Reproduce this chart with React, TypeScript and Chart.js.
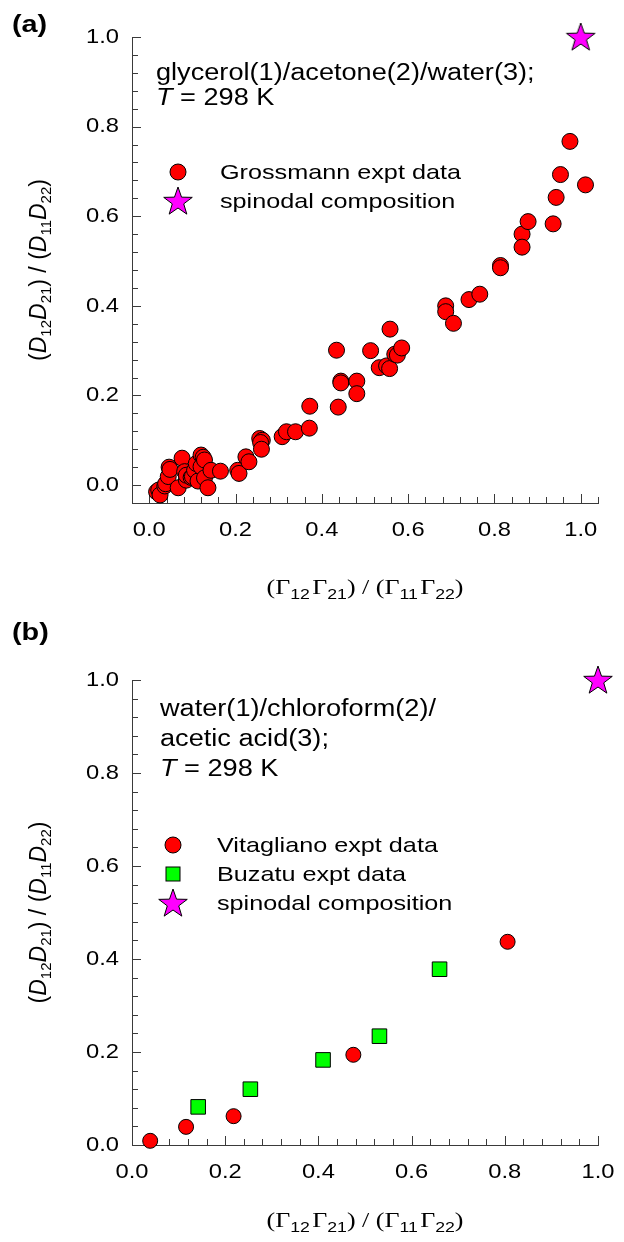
import React, { useEffect, useRef } from 'react';
import { Chart, registerables } from 'chart.js';

Chart.register(...registerables);

// ---------- data: panel (a) glycerol/acetone/water ----------
const grossmannX = [0.017, 0.022, 0.025, 0.036, 0.038, 0.044, 0.046, 0.048, 0.067, 0.076, 0.082, 0.086, 0.086, 0.097, 0.100, 0.105, 0.109, 0.113, 0.120, 0.125, 0.120, 0.128, 0.128, 0.136, 0.143, 0.165, 0.205, 0.208, 0.224, 0.231, 0.256, 0.262, 0.258, 0.260, 0.308, 0.318, 0.339, 0.371, 0.372, 0.434, 0.438, 0.444, 0.444, 0.481, 0.481, 0.513, 0.533, 0.550, 0.557, 0.558, 0.569, 0.575, 0.585, 0.687, 0.687, 0.705, 0.741, 0.766, 0.814, 0.814, 0.864, 0.864, 0.878, 0.936, 0.943, 0.953, 0.975, 1.011];
const grossmannY = [-0.015, -0.011, -0.022, -0.002, 0.003, 0.019, 0.040, 0.035, -0.006, 0.060, 0.030, 0.011, 0.022, 0.017, 0.019, 0.033, 0.048, 0.009, 0.067, 0.062, 0.041, 0.056, 0.016, -0.006, 0.033, 0.031, 0.033, 0.026, 0.063, 0.052, 0.104, 0.100, 0.095, 0.080, 0.108, 0.119, 0.119, 0.127, 0.176, 0.301, 0.174, 0.232, 0.228, 0.232, 0.204, 0.300, 0.262, 0.266, 0.260, 0.348, 0.292, 0.290, 0.306, 0.400, 0.387, 0.361, 0.414, 0.426, 0.490, 0.485, 0.560, 0.531, 0.588, 0.583, 0.642, 0.693, 0.767, 0.670];
const spinodalAX = [1.0];
const spinodalAY = [1.0];

// ---------- data: panel (b) water/chloroform/acetic acid ----------
const vitaglianoX = [0.039, 0.116, 0.218, 0.475, 0.806];
const vitaglianoY = [0.009, 0.039, 0.062, 0.194, 0.437];
const buzatuX = [0.142, 0.254, 0.410, 0.531, 0.660];
const buzatuY = [0.082, 0.120, 0.183, 0.234, 0.378];
const spinodalBX = [1.0];
const spinodalBY = [1.0];

// ---------- tick labels ----------
const xTickLabels = ['0.0', '0.2', '0.4', '0.6', '0.8', '1.0'];
const yTickLabels = ['0.0', '0.2', '0.4', '0.6', '0.8', '1.0'];

const SANS = '"Liberation Sans", Arial, Helvetica, sans-serif';
const SERIF = '"Liberation Serif", "Times New Roman", serif';
const AXIS = '#3a3a3a';
const SX = 1.18;

type Seg = { t: string; f: string; dy?: number };

function drawSegs(
  ctx: CanvasRenderingContext2D,
  segs: Seg[],
  x: number,
  y: number,
  align: 'left' | 'center' | 'right',
  baseline: CanvasTextBaseline,
  rotate = false,
  sx = SX
) {
  ctx.save();
  ctx.translate(x, y);
  if (rotate) ctx.rotate(-Math.PI / 2);
  ctx.scale(sx, 1);
  let w = 0;
  for (const s of segs) {
    ctx.font = s.f;
    w += ctx.measureText(s.t).width;
  }
  let cx = align === 'center' ? -w / 2 : align === 'right' ? -w : 0;
  ctx.textAlign = 'left';
  ctx.textBaseline = baseline;
  ctx.fillStyle = '#000';
  for (const s of segs) {
    ctx.font = s.f;
    ctx.fillText(s.t, cx, s.dy || 0);
    cx += ctx.measureText(s.t).width;
  }
  ctx.restore();
}

function makeStar(): HTMLCanvasElement {
  const c = document.createElement('canvas');
  c.width = 34;
  c.height = 34;
  const g = c.getContext('2d')!;
  const R = 15;
  const r = R * 0.4;
  const cx = 17;
  const cy = 18;
  g.beginPath();
  for (let i = 0; i < 10; i++) {
    const rad = i % 2 === 0 ? R : r;
    const a = -Math.PI / 2 + (i * Math.PI) / 5;
    const px = cx + rad * Math.cos(a);
    const py = cy + rad * Math.sin(a);
    if (i === 0) g.moveTo(px, py);
    else g.lineTo(px, py);
  }
  g.closePath();
  g.fillStyle = '#ff00ff';
  g.fill();
  g.strokeStyle = '#000';
  g.lineWidth = 1;
  g.stroke();
  return c;
}

const isMajor = (v: number) => Math.abs(v / 0.2 - Math.round(v / 0.2)) < 1e-6;

type LegendItem = { kind: 'circle' | 'square' | 'star'; text: string; y: number };
type PanelCfg = {
  tag: string;
  tagY: number;
  noteLines: Seg[][];
  noteX: number;
  noteY0: number;
  noteDy: number;
  legendX: number;
  legendTextX: number;
  legend: LegendItem[];
  yTitleX: number;
  xTitleY: number;
};

function makeDecor(cfg: PanelCfg, star: HTMLCanvasElement) {
  return {
    id: 'decor',
    beforeDatasetsDraw(chart: any) {
      const ctx: CanvasRenderingContext2D = chart.ctx;
      const xs = chart.scales.x;
      const ys = chart.scales.y;
      const { left, bottom } = chart.chartArea;
      ctx.save();
      ctx.strokeStyle = AXIS;
      ctx.lineWidth = 1;
      for (const t of xs.ticks) {
        const px = Math.round(xs.getPixelForValue(t.value)) + 0.5;
        const len = isMajor(t.value) ? 9 : 6;
        ctx.beginPath();
        ctx.moveTo(px, bottom);
        ctx.lineTo(px, bottom - len);
        ctx.stroke();
      }
      for (const t of ys.ticks) {
        const py = Math.round(ys.getPixelForValue(t.value)) + 0.5;
        const len = isMajor(t.value) ? 9 : 6;
        ctx.beginPath();
        ctx.moveTo(left, py);
        ctx.lineTo(left + len, py);
        ctx.stroke();
      }
      ctx.restore();
    },
    afterDraw(chart: any) {
      const ctx: CanvasRenderingContext2D = chart.ctx;
      const xs = chart.scales.x;
      const ys = chart.scales.y;
      const { left, right, top, bottom } = chart.chartArea;
      const tickFont = `21px ${SANS}`;
      for (const lab of xTickLabels) {
        const px = xs.getPixelForValue(parseFloat(lab));
        drawSegs(ctx, [{ t: lab, f: tickFont }], px, bottom + 27, 'center', 'middle', false, 1.13);
      }
      for (const lab of yTickLabels) {
        const py = ys.getPixelForValue(parseFloat(lab));
        drawSegs(ctx, [{ t: lab, f: tickFont }], left - 13, py, 'right', 'middle', false, 1.13);
      }
      // panel tag
      drawSegs(ctx, [{ t: cfg.tag, f: `bold 24px ${SANS}` }], 12, cfg.tagY, 'left', 'alphabetic', false, 1.2);
      // annotation
      cfg.noteLines.forEach((line, i) => {
        drawSegs(ctx, line, cfg.noteX, cfg.noteY0 + i * cfg.noteDy, 'left', 'alphabetic');
      });
      // legend
      for (const it of cfg.legend) {
        ctx.save();
        ctx.lineWidth = 1;
        ctx.strokeStyle = '#000';
        if (it.kind === 'circle') {
          ctx.beginPath();
          ctx.arc(cfg.legendX, it.y, 8, 0, Math.PI * 2);
          ctx.fillStyle = '#ff0000';
          ctx.fill();
          ctx.stroke();
        } else if (it.kind === 'square') {
          ctx.fillStyle = '#00ff00';
          ctx.fillRect(cfg.legendX - 7, it.y - 7, 14, 14);
          ctx.strokeRect(cfg.legendX - 7, it.y - 7, 14, 14);
        } else {
          ctx.drawImage(star, cfg.legendX - star.width / 2, it.y - star.height / 2);
        }
        ctx.restore();
        drawSegs(ctx, [{ t: it.text, f: `21px ${SANS}` }], cfg.legendTextX, it.y + 1, 'left', 'middle', false, 1.2);
      }
      // y title (rotated)
      const yf = `23px ${SANS}`;
      const yi = `italic 23px ${SANS}`;
      const ys15 = `15px ${SANS}`;
      drawSegs(
        ctx,
        [
          { t: '(', f: yf },
          { t: 'D', f: yi },
          { t: '12', f: ys15, dy: 5 },
          { t: 'D', f: yi },
          { t: '21', f: ys15, dy: 5 },
          { t: ')', f: yf },
          { t: ' / ', f: yf },
          { t: '(', f: yf },
          { t: 'D', f: yi },
          { t: '11', f: ys15, dy: 5 },
          { t: 'D', f: yi },
          { t: '22', f: ys15, dy: 5 },
          { t: ')', f: yf },
        ],
        cfg.yTitleX,
        (top + bottom) / 2,
        'center',
        'alphabetic',
        true,
        1.0
      );
      // x title
      const xf = `22px ${SERIF}`;
      const xsub = `15px ${SANS}`;
      drawSegs(
        ctx,
        [
          { t: '(', f: xf },
          { t: 'Γ', f: xf },
          { t: '12', f: xsub, dy: 5 },
          { t: ' ', f: `8px ${SERIF}` },
          { t: 'Γ', f: xf },
          { t: '21', f: xsub, dy: 5 },
          { t: ')', f: xf },
          { t: ' / ', f: xf },
          { t: '(', f: xf },
          { t: 'Γ', f: xf },
          { t: '11', f: xsub, dy: 5 },
          { t: ' ', f: `8px ${SERIF}` },
          { t: 'Γ', f: xf },
          { t: '22', f: xsub, dy: 5 },
          { t: ')', f: xf },
        ],
        (left + right) / 2,
        cfg.xTitleY,
        'center',
        'alphabetic'
      );
    },
  };
}

function baseScales(xmin: number, xmax: number, ymin: number, ymax: number) {
  const common = {
    type: 'linear' as const,
    grid: { display: false, drawTicks: false },
    border: { display: true, color: AXIS, width: 1 },
    ticks: { display: false, stepSize: 0.04 },
    title: { display: false },
    afterFit: (s: any) => {
      if (s.isHorizontal()) s.height = 0;
      else s.width = 0;
    },
  };
  return {
    x: { ...common, position: 'bottom' as const, min: xmin, max: xmax },
    y: { ...common, position: 'left' as const, min: ymin, max: ymax },
  };
}

const W = 624;
const HA = 610;
const HB = 632;

export default function App() {
  const refA = useRef<HTMLCanvasElement>(null);
  const refB = useRef<HTMLCanvasElement>(null);

  useEffect(() => {
    const star = makeStar();
    const circleDs = (label: string, xs: number[], ys: number[], r: number) => ({
      label,
      data: xs.map((x, i) => ({ x, y: ys[i] })),
      pointStyle: 'circle' as const,
      pointRadius: r,
      pointHoverRadius: r,
      backgroundColor: '#ff0000',
      borderColor: '#000',
      borderWidth: 1,
      showLine: false,
      clip: false as const,
    });
    const starDs = (xs: number[], ys: number[]) => ({
      label: 'spinodal composition',
      data: xs.map((x, i) => ({ x, y: ys[i] })),
      pointStyle: star,
      pointRadius: 15,
      showLine: false,
      clip: false as const,
    });

    const cfgA: PanelCfg = {
      tag: '(a)',
      tagY: 32,
      noteLines: [
        [{ t: 'glycerol(1)/acetone(2)/water(3);', f: `23px ${SANS}` }],
        [
          { t: 'T', f: `italic 23px ${SANS}` },
          { t: ' = 298 K', f: `23px ${SANS}` },
        ],
      ],
      noteX: 156,
      noteY0: 80,
      noteDy: 25,
      legendX: 178,
      legendTextX: 220,
      legend: [
        { kind: 'circle', text: 'Grossmann expt data', y: 172 },
        { kind: 'star', text: 'spinodal composition', y: 201 },
      ],
      yTitleX: 46,
      xTitleY: 594,
    };

    const cfgB: PanelCfg = {
      tag: '(b)',
      tagY: 30,
      noteLines: [
        [{ t: 'water(1)/chloroform(2)/', f: `23px ${SANS}` }],
        [{ t: 'acetic acid(3);', f: `23px ${SANS}` }],
        [
          { t: 'T', f: `italic 23px ${SANS}` },
          { t: ' = 298 K', f: `23px ${SANS}` },
        ],
      ],
      noteX: 160,
      noteY0: 106,
      noteDy: 30,
      legendX: 173,
      legendTextX: 217,
      legend: [
        { kind: 'circle', text: 'Vitagliano expt data', y: 235 },
        { kind: 'square', text: 'Buzatu expt data', y: 264 },
        { kind: 'star', text: 'spinodal composition', y: 293 },
      ],
      yTitleX: 46,
      xTitleY: 617,
    };

    const chartA = new Chart(refA.current!, {
      type: 'scatter',
      data: {
        datasets: [circleDs('Grossmann expt data', grossmannX, grossmannY, 8), starDs(spinodalAX, spinodalAY)] as any,
      },
      options: {
        responsive: false,
        animation: false,
        events: [],
        layout: { autoPadding: false, padding: { left: 132, right: W - 598, top: 37, bottom: HA - 503 } },
        plugins: { legend: { display: false }, tooltip: { enabled: false }, title: { display: false } },
        scales: baseScales(-0.04, 1.04, -0.04, 1.0) as any,
      },
      plugins: [makeDecor(cfgA, star)],
    });

    const chartB = new Chart(refB.current!, {
      type: 'scatter',
      data: {
        datasets: [
          circleDs('Vitagliano expt data', vitaglianoX, vitaglianoY, 7.5),
          {
            label: 'Buzatu expt data',
            data: buzatuX.map((x, i) => ({ x, y: buzatuY[i] })),
            pointStyle: 'rect',
            pointRadius: 10.3,
            pointHoverRadius: 10.3,
            backgroundColor: '#00ff00',
            borderColor: '#000',
            borderWidth: 1,
            showLine: false,
            clip: false,
          },
          starDs(spinodalBX, spinodalBY),
        ] as any,
      },
      options: {
        responsive: false,
        animation: false,
        events: [],
        layout: { autoPadding: false, padding: { left: 132, right: W - 598, top: 70, bottom: HB - 535 } },
        plugins: { legend: { display: false }, tooltip: { enabled: false }, title: { display: false } },
        scales: baseScales(0, 1.0, 0, 1.0) as any,
      },
      plugins: [makeDecor(cfgB, star)],
    });

    return () => {
      chartA.destroy();
      chartB.destroy();
    };
  }, []);

  return (
    <div style={{ position: 'absolute', left: 0, top: 0, width: W, height: HA + HB, background: '#fff' }}>
      <canvas ref={refA} width={W} height={HA} style={{ display: 'block', width: W, height: HA }} />
      <canvas ref={refB} width={W} height={HB} style={{ display: 'block', width: W, height: HB }} />
    </div>
  );
}
